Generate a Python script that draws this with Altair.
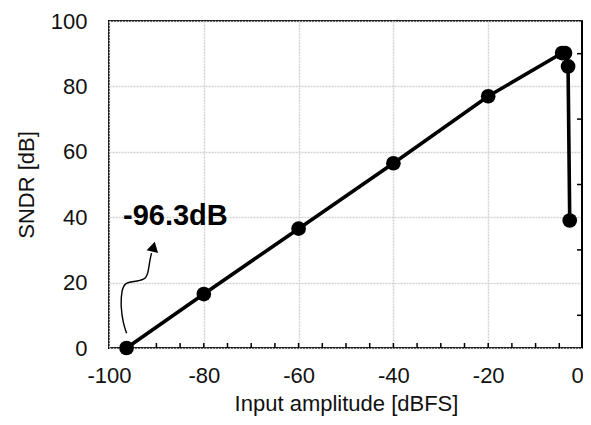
import altair as alt
import pandas as pd

# main data
amp_dbfs = [-96.3, -80, -60, -40, -20, -4.4, -3.8, -3.15, -2.8]
sndr_db = [0, 16.5, 36.5, 56.5, 77, 90.2, 90.2, 86.1, 39.0]

# tick label values
x_major = [-100, -80, -60, -40, -20, 0]
y_major = [0, 20, 40, 60, 80, 100]
x_minor = [-95, -90, -85, -80, -75, -70, -65, -60, -55, -50, -45, -40, -35, -30, -25, -20, -15, -10, -5]
y_minor = [10, 30, 50, 70, 90]

# annotation (hand-drawn arrow path, in data units)
arrow_x = [-96.28, -97.0, -97.54, -97.33, -96.64, -94.9, -92.44, -91.74, -91.39, -91.03]
arrow_y = [4.5, 7.5, 12.6, 17.7, 19.9, 20.3, 20.8, 22.8, 26.9, 29.0]
head_x = [-90.6]
head_y = [31.0]
label_x = [-86.0]
label_y = [40.4]
label_text = ["-96.3dB"]

W, H = 474, 327
FONT = "Liberation Sans"

df = pd.DataFrame({"x": amp_dbfs, "y": sndr_db, "o": list(range(len(amp_dbfs)))})
arrow_df = pd.DataFrame({"x": arrow_x, "y": arrow_y, "o": list(range(len(arrow_x)))})
head_df = pd.DataFrame({"x": head_x, "y": head_y})
label_df = pd.DataFrame({"x": label_x, "y": label_y, "t": label_text})
xminor_df = pd.DataFrame({"x": x_minor})
yminor_df = pd.DataFrame({"y": y_minor})

xs = alt.Scale(domain=[-100, 0], nice=False)
ys = alt.Scale(domain=[0, 100], nice=False)

x_axis = alt.Axis(values=x_major, title="Input amplitude [dBFS]", grid=True, ticks=False,
                  domain=False, labelPadding=17, titlePadding=7, labelFlush=False,
                  labelExpr="'' + datum.value",
                  labelOffset={"condition": {"test": "datum.value == 0", "value": -6}, "value": 0})
y_axis = alt.Axis(values=y_major, title="SNDR [dB]", grid=True, ticks=False,
                  domain=False, labelPadding=22, titlePadding=12, labelFlush=False,
                  labelExpr="'' + datum.value")

X = alt.X("x:Q", scale=xs, axis=x_axis)
Y = alt.Y("y:Q", scale=ys, axis=y_axis)

line = alt.Chart(df).mark_line(color="black", strokeWidth=3.6).encode(x=X, y=Y, order="o:Q")
pts = alt.Chart(df).mark_point(filled=True, color="black", size=215, opacity=1).encode(x=X, y=Y)

xticks = alt.Chart(xminor_df).mark_rule(color="black", strokeWidth=1.5).encode(
    x=X, y=alt.value(H), y2=alt.value(H - 5)
)
yticks = alt.Chart(yminor_df).mark_rule(color="black", strokeWidth=1.5).encode(
    y=Y, x=alt.value(W - 6), x2=alt.value(W)
)
right_border = alt.Chart(yminor_df).mark_rule(color="black", strokeWidth=2).encode(
    x=alt.value(W - 1), y=alt.value(0), y2=alt.value(H)
)

arrow = alt.Chart(arrow_df).mark_line(color="black", strokeWidth=1.4, interpolate="basis").encode(
    x=X, y=Y, order="o:Q"
)
head = alt.Chart(head_df).mark_point(shape="triangle-up", filled=True, color="black",
                                     size=140, opacity=1, angle=14).encode(x=X, y=Y)
label = alt.Chart(label_df).mark_text(font=FONT, fontSize=29, fontWeight="bold",
                                      color="black", align="center", baseline="middle").encode(
    x=X, y=Y, text="t:N"
)

chart = alt.layer(xticks, yticks, right_border, arrow, head, line, pts, label).properties(
    width=W, height=H,
    background="white",
    autosize=alt.AutoSizeParams(type="none"),
    padding={"left": 101, "top": 13, "right": 0, "bottom": 69},
).configure_view(
    stroke="black", strokeWidth=2
).configure_axis(
    labelFont=FONT, titleFont=FONT, labelFontSize=22, titleFontSize=22,
    labelColor="#111", titleColor="#111", titleFontWeight="normal",
    gridColor="#d2d2d2", gridWidth=1.5, gridDash=[2, 1],
)

chart.save("out.html", embed_options={"renderer": "svg", "actions": False})
